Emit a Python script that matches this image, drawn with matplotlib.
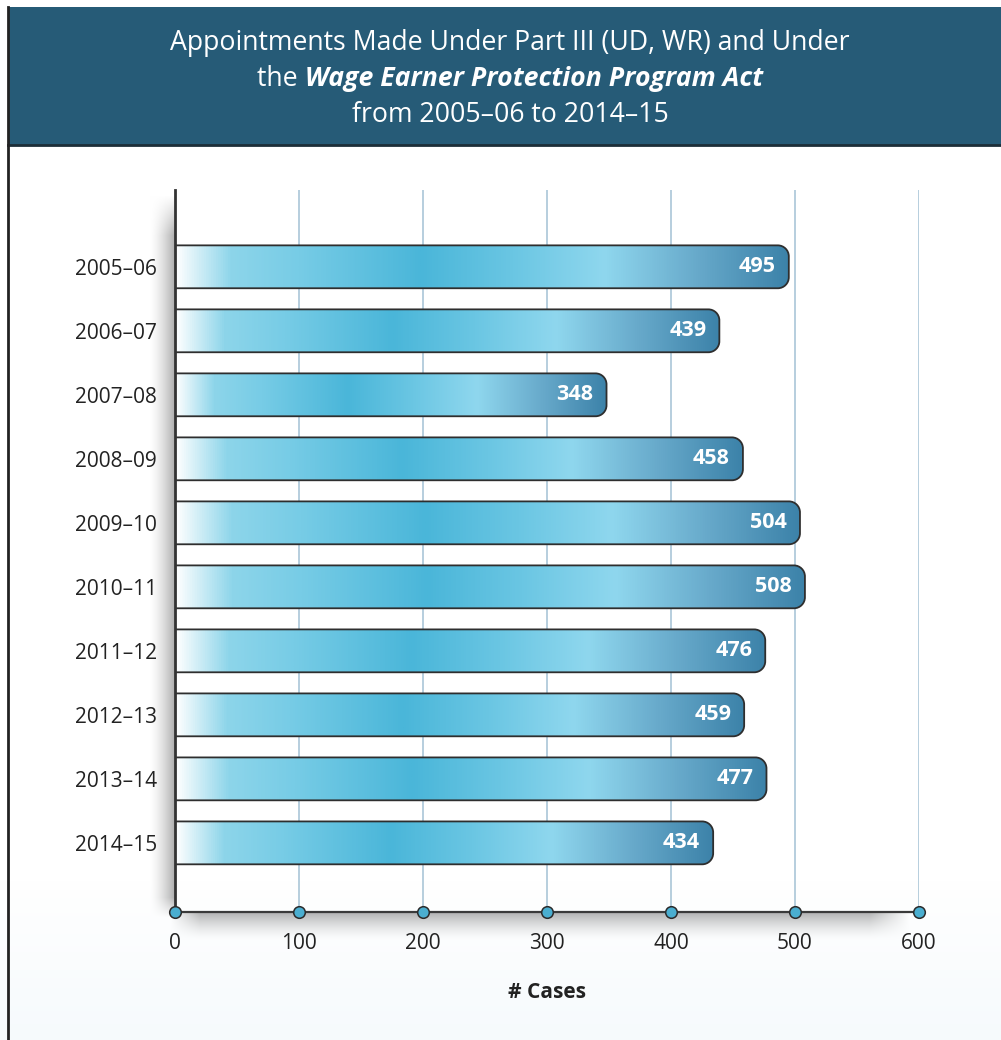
import numpy as np
import matplotlib
matplotlib.use("Agg")
import matplotlib.pyplot as plt
from matplotlib.path import Path
from matplotlib.patches import PathPatch, Rectangle
from matplotlib.colors import LinearSegmentedColormap
from matplotlib.lines import Line2D

# ---- data ----
years = ["2005–06", "2006–07", "2007–08", "2008–09", "2009–10",
         "2010–11", "2011–12", "2012–13", "2013–14", "2014–15"]
cases = [495, 439, 348, 458, 504, 508, 476, 459, 477, 434]
x_ticks = [0, 100, 200, 300, 400, 500, 600]
title_line1 = "Appointments Made Under Part III (UD, WR) and Under"
title_line2a = "the "
title_line2b = "Wage Earner Protection Program Act"
title_line3 = "from 2005–06 to 2014–15"
x_label = "# Cases"

FONT = "Open Sans"
W, H = 1001, 1040
DPI = 100

fig = plt.figure(figsize=(W / DPI, H / DPI), dpi=DPI)
fig.patch.set_facecolor("white")

# ---- background: faint tint and soft shadows behind the axes ----
bg = fig.add_axes([0, 0, 1, 1], zorder=-10)
bg.set_axis_off()
yy, xx = np.mgrid[0:H, 0:W].astype(float)
img = np.ones((H, W, 3))
# faint cool tint towards the bottom
tint = np.clip((yy - 880) / 160, 0, 1) * 0.035
img[..., 0] -= tint * 1.0
img[..., 1] -= tint * 0.55
img[..., 2] -= tint * 0.25
ax_l, ax_r, ax_t, ax_b = 175, 919, 190, 912
# left shadow of the vertical axis
sx = np.clip(1 - (ax_l - xx) / 26, 0, 1) * (xx <= ax_l)
sy = np.clip((yy - 195) / 40, 0, 1) * np.clip((ax_b + 5 - yy) / 20, 0, 1)
left_sh = (sx ** 1.5) * sy * 0.33
# bottom shadow of the horizontal axis
by = np.clip(1 - (yy - ax_b) / 28, 0, 1) * (yy >= ax_b)
bx = np.clip((xx - ax_l + 5) / 30, 0, 1) * np.clip((ax_r - 10 - xx) / 40, 0, 1)
bot_sh = (by ** 1.5) * bx * 0.30
shade = np.clip(left_sh + bot_sh, 0, 0.38)
img *= (1 - shade)[..., None]
bg.imshow(img, extent=[0, 1, 0, 1], aspect="auto", interpolation="bilinear")
bg.set_xlim(0, 1)
bg.set_ylim(0, 1)

# ---- header band ----
header_col = "#265b77"
fig.patches.append(Rectangle((8 / W, 1 - 145 / H), 1 - 8 / W, (145 - 7) / H,
                             transform=fig.transFigure, facecolor=header_col,
                             edgecolor="none", zorder=1))
fig.lines.append(Line2D([8 / W, 1], [1 - 145 / H, 1 - 145 / H],
                        transform=fig.transFigure, color="#1c2e38", lw=2, zorder=2))
fig.lines.append(Line2D([8 / W, 8 / W], [0, 1 - 7 / H],
                        transform=fig.transFigure, color="#222222", lw=2, zorder=2))

# ---- title ----
renderer = fig.canvas.get_renderer()
tsize = 19.2
cx = 510 / W
fig.text(cx, 1 - 43 / H, title_line1, ha="center", va="center", color="white",
         fontsize=tsize, family=FONT)
t_a = fig.text(0, 1 - 79 / H, title_line2a, ha="left", va="center", color="white",
               fontsize=tsize, family=FONT)
t_b = fig.text(0, 1 - 79 / H, title_line2b, ha="left", va="center", color="white",
               fontsize=tsize, family=FONT, fontweight="bold", fontstyle="italic")
wa = t_a.get_window_extent(renderer).width
wb = t_b.get_window_extent(renderer).width
x0 = cx * W - (wa + wb) / 2
t_a.set_x(x0 / W)
t_b.set_x((x0 + wa) / W)
fig.text(cx, 1 - 115 / H, title_line3, ha="center", va="center", color="white",
         fontsize=tsize, family=FONT)

# ---- main axes ----
ax = fig.add_axes([ax_l / W, 1 - ax_b / H, (ax_r - ax_l) / W, (ax_b - ax_t) / H])
ax.patch.set_alpha(0)
n = len(years)
pos = np.arange(n)
ax.set_xlim(0, 600)
ax.set_ylim(n - 1 + 1.08, -1.2)

# vertical grid
for t in x_ticks[1:]:
    ax.axvline(t, color="#a3c1d4", lw=1.1, zorder=1)

# bars with gradient fill and rounded right end
cmap = LinearSegmentedColormap.from_list("bar", [
    (0.00, "#ffffff"), (0.09, "#8dd5ea"), (0.20, "#77cce6"),
    (0.40, "#4ab6d9"), (0.55, "#6ac6e3"), (0.70, "#8fd7ee"),
    (0.85, "#68aacb"), (1.00, "#3c82a9")])
grad = cmap(np.linspace(0, 1, 512))[None, :, :]
bh = 0.67
px_x = (ax_r - ax_l) / 600.0
px_y = (ax_b - ax_t) / (n - 1 + 1.08 + 1.2)
r_px = 11
rx, ry = r_px / px_x, r_px / px_y
k = 0.5523

for i, v in enumerate(cases):
    y0, y1 = i - bh / 2, i + bh / 2
    verts = [(0, y0), (v - rx, y0),
             (v - rx + k * rx, y0), (v, y0 + ry - k * ry), (v, y0 + ry),
             (v, y1 - ry),
             (v, y1 - ry + k * ry), (v - rx + k * rx, y1), (v - rx, y1),
             (0, y1), (0, y0)]
    codes = [Path.MOVETO, Path.LINETO,
             Path.CURVE4, Path.CURVE4, Path.CURVE4,
             Path.LINETO,
             Path.CURVE4, Path.CURVE4, Path.CURVE4,
             Path.LINETO, Path.CLOSEPOLY]
    path = Path(verts, codes)
    clip = PathPatch(path, facecolor="none", edgecolor="none", transform=ax.transData)
    ax.add_patch(clip)
    im = ax.imshow(grad, extent=[0, v, y1, y0], aspect="auto",
                   interpolation="bilinear", zorder=2)
    im.set_clip_path(clip)
    ax.add_patch(PathPatch(path, facecolor="none", edgecolor="#2e2e2e",
                           lw=1.3, zorder=3))
    ax.text(v - 13 / px_x, i, str(v), ha="right", va="center", color="white",
            fontsize=15.5, fontweight="bold", family=FONT, zorder=4)

# restore limits after imshow
ax.set_xlim(0, 600)
ax.set_ylim(n - 1 + 1.08, -1.2)

# spines
for s in ["top", "right"]:
    ax.spines[s].set_visible(False)
ax.spines["left"].set_color("#333333")
ax.spines["left"].set_linewidth(2)
ax.spines["bottom"].set_color("#3a3a3a")
ax.spines["bottom"].set_linewidth(1.6)
ax.spines["left"].set_zorder(5)
ax.spines["bottom"].set_zorder(5)

# tick dots on the horizontal axis
ax.scatter(x_ticks, [n - 1 + 1.08] * len(x_ticks), s=70, color="#4aaed0",
           edgecolor="#2b2b2b", linewidth=1.1, zorder=6, clip_on=False)

ax.set_xticks(x_ticks)
ax.set_xticklabels([str(t) for t in x_ticks], family=FONT, fontsize=15,
                   color="#222222")
ax.set_yticks(pos)
ax.set_yticklabels(years, family=FONT, fontsize=15, color="#222222")
ax.tick_params(axis="x", length=0, pad=15)
ax.tick_params(axis="y", length=0, pad=13)
ax.set_xlabel(x_label, family=FONT, fontsize=15, fontweight="bold",
              color="#222222", labelpad=20)

fig.savefig("out.png", dpi=DPI)
